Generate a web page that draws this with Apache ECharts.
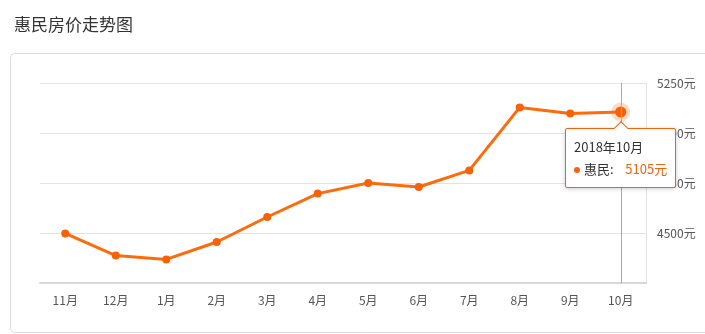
<!DOCTYPE html>
<html><head><meta charset="utf-8">
<script src="https://cdn.jsdelivr.net/npm/echarts@6/dist/echarts.min.js"></script>
<style>html,body{margin:0;padding:0;background:#fff;}#c{width:705px;height:334px;}</style>
</head><body><div id="c"></div>
<script>
var titleText = '惠民房价走势图';
var seriesName = '惠民';
var months = ['11月','12月','1月','2月','3月','4月','5月','6月','7月','8月','9月','10月'];
var fullMonths = ['2017年11月','2017年12月','2018年1月','2018年2月','2018年3月','2018年4月','2018年5月','2018年6月','2018年7月','2018年8月','2018年9月','2018年10月'];
var prices = [4498, 4387, 4368, 4455, 4580, 4697, 4750, 4730, 4813, 5128, 5098, 5105];
var yMin = 4250, yMax = 5250, yStep = 250;

var chart = echarts.init(document.getElementById('c'), null, {renderer:'canvas'});
var orange = '#f6620a';
chart.setOption({
  animation: false,
  title: {text: titleText, left: 9, top: 11, textStyle: {fontSize: 17, fontWeight: 'normal', color: '#333', fontFamily: 'Noto Sans CJK SC'}},
  graphic: [{type:'rect', z: -10, shape:{x:10.5, y:53.5, width:740, height:279, r:4}, style:{fill:'#fff', stroke:'#dcdcdc', lineWidth:1}}],
  grid: {left: 40, right: 59, top: 83, bottom: 51},
  tooltip: {
    trigger: 'item', transitionDuration: 0,
    position: function(point, params, dom, rect, size){
      return [point[0] - size.contentSize[0] / 2, point[1] + 16];
    },
    backgroundColor: '#fff', borderColor: orange, borderWidth: 1,
    padding: [7, 8], extraCssText: 'box-shadow:0 1px 4px rgba(0,0,0,0.2);border-radius:2px;overflow:visible;',
    textStyle: {fontSize: 13, color: '#333', fontFamily: 'Noto Sans CJK SC'},
    formatter: function(p){
      return '<div style="position:absolute;left:50%;top:-6px;margin-left:-5px;width:9px;height:9px;background:#fff;border-left:1px solid '+orange+';border-top:1px solid '+orange+';transform:rotate(45deg);"></div>' +
        '<div style="line-height:22px">' + fullMonths[p.dataIndex] + '</div>' +
        '<div style="line-height:22px"><span style="display:inline-block;width:6px;height:6px;border-radius:3px;background:'+orange+';margin-right:4px;vertical-align:middle"></span>' +
        p.seriesName + ':&nbsp;&nbsp;&nbsp;&nbsp;<span style="color:'+orange+'">' + p.value + '元</span></div>';
    }
  },
  xAxis: {
    type: 'category', data: months, boundaryGap: true,
    axisLine: {lineStyle: {color: '#d8d8d8', width: 2}},
    axisTick: {alignWithLabel: true, length: 4, lineStyle: {color: '#d8d8d8'}},
    axisLabel: {color: '#555', fontSize: 12, margin: 11, fontFamily: 'Noto Sans CJK SC'},
    axisPointer: {show: true, type: 'line', value: '10月', status: 'show', triggerTooltip: false, label: {show: false}, lineStyle: {color: '#aaa', width: 1, type: 'solid'}}
  },
  yAxis: {
    type: 'value', position: 'right', min: yMin, max: yMax, interval: yStep,
    axisLine: {show: true, lineStyle: {color: '#e3e3e3', width: 1}},
    axisTick: {show: false},
    splitLine: {lineStyle: {color: '#e3e3e3'}},
    axisLabel: {color: '#555', fontSize: 12, margin: 11, showMinLabel: false, formatter: function(v){ return v + '元'; }, fontFamily: 'Noto Sans CJK SC'}
  },
  series: [{
    name: seriesName, type: 'line', data: prices,
    symbol: 'circle', symbolSize: 8,
    lineStyle: {color: orange, width: 3},
    itemStyle: {color: orange},
    emphasis: {scale: 1.4, itemStyle: {color: orange, borderColor: 'rgba(246,98,10,0.22)', borderWidth: 8}}
  }]
});
chart.dispatchAction({type: 'highlight', seriesIndex: 0, dataIndex: 11});
chart.dispatchAction({type: 'showTip', seriesIndex: 0, dataIndex: 11});
</script></body></html>
